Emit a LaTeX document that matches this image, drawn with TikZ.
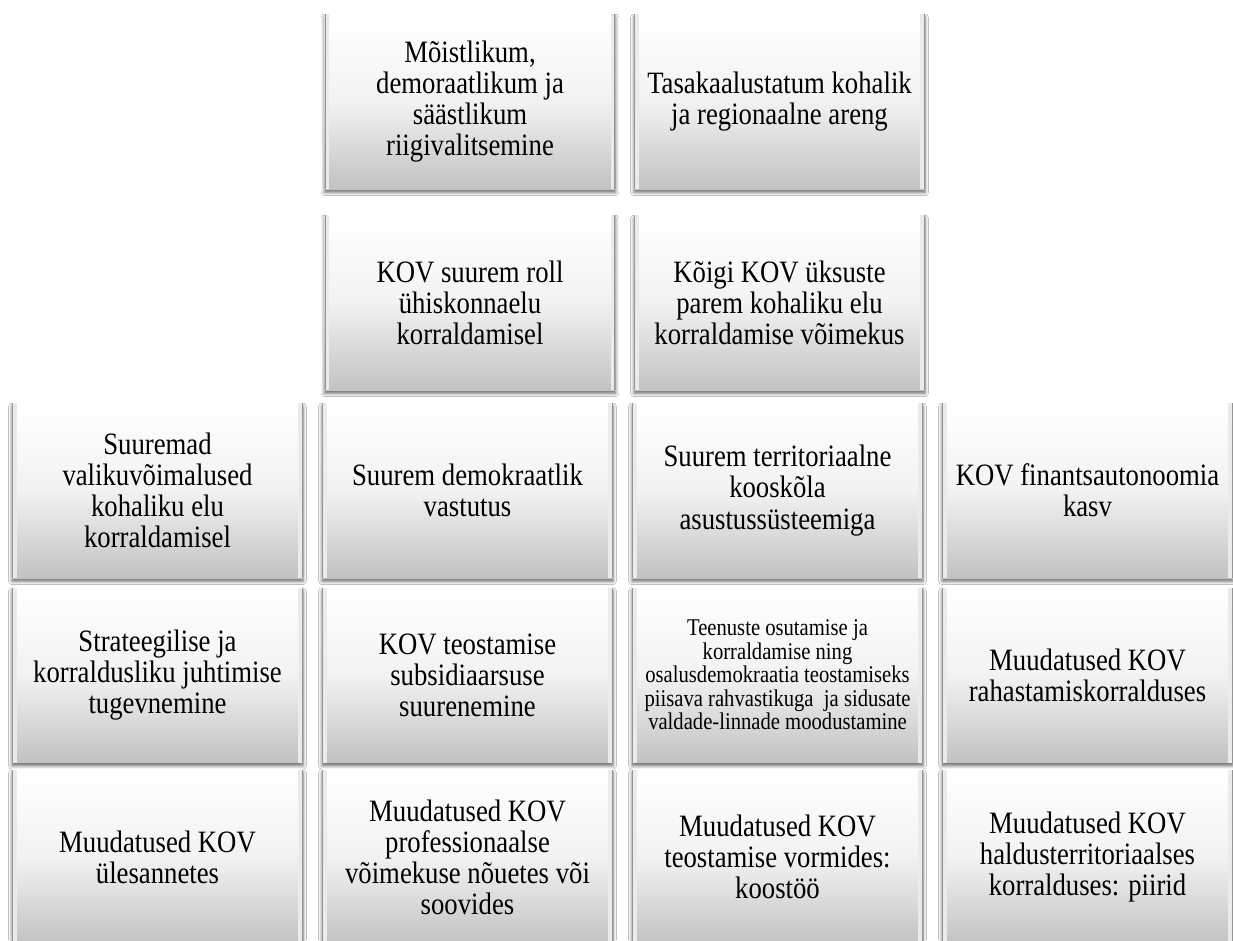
\documentclass[tikz,border=0pt]{standalone}
\usepackage{fontspec}
\setmainfont{Liberation Serif}
\newfontfamily\tilefont[FakeStretch=0.86]{Liberation Serif}
\usetikzlibrary{positioning,shadows.blur}

\begin{document}
\begin{tikzpicture}[x=0.75pt, y=-0.75pt,
  tile/.style = {rectangle, minimum width=218.25pt, minimum height=131.25pt, inner sep=2pt, align=center,
    top color=white, bottom color=black!24, middle color=black!5,
    font=\tilefont\fontsize{23.3}{23.3}\selectfont,
    blur shadow={shadow xshift=0pt, shadow yshift=-2.5pt, shadow blur radius=2.5pt, shadow opacity=60},
    path picture={
      \draw[black!42, line width=2pt]
        (path picture bounding box.south west) -- (path picture bounding box.north west)
        (path picture bounding box.south east) -- (path picture bounding box.north east);
      \draw[black!8, line width=2.5pt]
        ([xshift=2.2pt]path picture bounding box.south west) -- ([xshift=2.2pt]path picture bounding box.north west)
        ([xshift=-2.2pt]path picture bounding box.south east) -- ([xshift=-2.2pt]path picture bounding box.north east);
    }},
  small/.style = {font=\tilefont\fontsize{18}{17.6}\selectfont}]
\useasboundingbox[fill=white] (0,0) rectangle (1233,940);

% goals
\node[tile] (goal1) at (470,101.5) {Mõistlikum,\\ demoraatlikum ja\\ säästlikum\\ riigivalitsemine};
\node[tile] (goal2) at (779.5,101.5) {Tasakaalustatum kohalik\\ ja regionaalne areng};

% aims
\node[tile] (aim1) at (470,302.5) {KOV suurem roll\\ ühiskonnaelu\\ korraldamisel};
\node[tile] (aim2) at (779.5,302.5) {Kõigi KOV üksuste\\ parem kohaliku elu\\ korraldamise võimekus};

% results
\node[tile] (res1) at (157.5,490.5) {Suuremad\\ valikuvõimalused\\ kohaliku elu\\ korraldamisel};
\node[tile] (res2) at (467.5,490.5) {Suurem demokraatlik\\ vastutus};
\node[tile] (res3) at (777.5,490.5) {Suurem territoriaalne\\ kooskõla\\ asustussüsteemiga};
\node[tile] (res4) at (1087.5,490.5) {KOV finantsautonoomia\\ kasv};

% effects
\node[tile] (eff1) at (157.5,675) {Strateegilise ja\\ korraldusliku juhtimise\\ tugevnemine};
\node[tile] (eff2) at (467.5,675) {KOV teostamise\\ subsidiaarsuse\\ suurenemine};
\node[tile, small] (eff3) at (777.5,675) {Teenuste osutamise ja\\ korraldamise ning\\ osalusdemokraatia teostamiseks\\ piisava rahvastikuga\ \ ja sidusate\\ valdade-linnade moodustamine};
\node[tile] (eff4) at (1087.5,675) {Muudatused KOV\\ rahastamiskorralduses};

% changes
\node[tile] (chg1) at (157.5,857) {Muudatused KOV\\ ülesannetes};
\node[tile] (chg2) at (467.5,857) {Muudatused KOV\\ professionaalse\\ võimekuse nõuetes või\\ soovides};
\node[tile] (chg3) at (777.5,857) {Muudatused KOV\\ teostamise vormides:\\ koostöö};
\node[tile] (chg4) at (1087.5,857) {Muudatused KOV\\ haldusterritoriaalses\\ korralduses: piirid};
\end{tikzpicture}
\end{document}
